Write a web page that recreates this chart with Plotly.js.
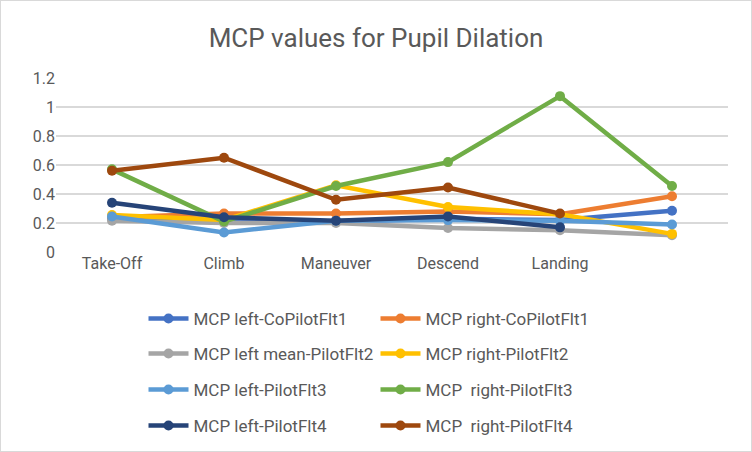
<!DOCTYPE html>
<html>
<head>
<meta charset="utf-8">
<script src="https://cdn.plot.ly/plotly-3.0.1.min.js"></script>
<style>
  html, body { margin: 0; padding: 0; background: #fff; }
  #wrap { width: 750px; height: 450px; border: 1px solid #d9d9d9; }
  #chart { width: 750px; height: 450px; }
</style>
</head>
<body>
<div id="wrap"><div id="chart"></div></div>
<script>
const categories = ['Take-Off', 'Climb', 'Maneuver', 'Descend', 'Landing', ''];

const seriesNames = [
  'MCP left-CoPilotFlt1',
  'MCP right-CoPilotFlt1',
  'MCP left mean-PilotFlt2',
  'MCP right-PilotFlt2',
  'MCP left-PilotFlt3',
  'MCP  right-PilotFlt3',
  'MCP left-PilotFlt4',
  'MCP  right-PilotFlt4'
];

const leftCoPilotFlt1  = [0.23, 0.23, 0.21, 0.23, 0.22, 0.285];
const rightCoPilotFlt1 = [0.24, 0.265, 0.265, 0.28, 0.26, 0.385];
const leftMeanPilotFlt2 = [0.215, 0.2, 0.2, 0.165, 0.15, 0.115];
const rightPilotFlt2   = [0.255, 0.22, 0.46, 0.31, 0.26, 0.125];
const leftPilotFlt3    = [0.245, 0.135, 0.215, 0.22, 0.215, 0.19];
const rightPilotFlt3   = [0.57, 0.21, 0.455, 0.62, 1.075, 0.455];
const leftPilotFlt4    = [0.34, 0.24, 0.215, 0.245, 0.17, null];
const rightPilotFlt4   = [0.56, 0.65, 0.36, 0.445, 0.265, null];

const seriesValues = [leftCoPilotFlt1, rightCoPilotFlt1, leftMeanPilotFlt2, rightPilotFlt2,
                      leftPilotFlt3, rightPilotFlt3, leftPilotFlt4, rightPilotFlt4];
const colors = ['#4472C4', '#ED7D31', '#A5A5A5', '#FFC000', '#5B9BD5', '#70AD47', '#264478', '#9E480E'];

const yTicks = [0, 0.2, 0.4, 0.6, 0.8, 1, 1.2];
const yTickText = ['0', '0.2', '0.4', '0.6', '0.8', '1', '1.2'];

const xIdx = categories.map((_, i) => i);
const legendIds = ['legend', 'legend', 'legend2', 'legend2', 'legend3', 'legend3', 'legend4', 'legend4'];

const traces = seriesValues.map((vals, i) => ({
  type: 'scatter',
  mode: 'lines+markers',
  x: xIdx,
  y: vals,
  name: seriesNames[i],
  legend: legendIds[i],
  line: { color: colors[i], width: 4.5 },
  marker: { color: colors[i], size: 10 },
  connectgaps: false
}));

const font = "'Roboto', sans-serif";
const legendBase = {
  orientation: 'h',
  xref: 'container', yref: 'container',
  x: 0.19, xanchor: 'left', yanchor: 'middle',
  entrywidth: 177, entrywidthmode: 'pixels',
  itemwidth: 40,
  font: { family: font, size: 17, color: '#595959' },
  bgcolor: 'rgba(0,0,0,0)'
};
const rowsY = [318, 353, 389, 425];

const layout = {
  width: 750, height: 450,
  paper_bgcolor: '#ffffff', plot_bgcolor: '#ffffff',
  margin: { l: 55, r: 23, t: 77, b: 199 },
  font: { family: font, color: '#595959' },
  title: {
    text: 'MCP values for Pupil Dilation',
    font: { family: font, size: 26, color: '#595959' },
    x: 0.5, xanchor: 'center', xref: 'container',
    y: 1 - 37 / 450, yanchor: 'middle', yref: 'container'
  },
  xaxis: {
    range: [-0.5, 5.5],
    tickvals: xIdx, ticktext: categories,
    showgrid: false, zeroline: false, showline: false,
    ticks: '', tickfont: { family: font, size: 16, color: '#595959' }
  },
  yaxis: {
    range: [0, 1.2],
    tickvals: yTicks, ticktext: yTickText,
    showgrid: true, gridcolor: '#d9d9d9', gridwidth: 1.5,
    zeroline: false, showline: false, ticks: '', ticklen: 0,
    tickfont: { family: font, size: 16, color: '#595959' }
  },
  legend:  Object.assign({}, legendBase, { y: 1 - rowsY[0] / 450 }),
  legend2: Object.assign({}, legendBase, { y: 1 - rowsY[1] / 450 }),
  legend3: Object.assign({}, legendBase, { y: 1 - rowsY[2] / 450 }),
  legend4: Object.assign({}, legendBase, { y: 1 - rowsY[3] / 450 }),
  showlegend: true
};

Plotly.newPlot('chart', traces, layout, { displayModeBar: false, staticPlot: true });
</script>
</body>
</html>
